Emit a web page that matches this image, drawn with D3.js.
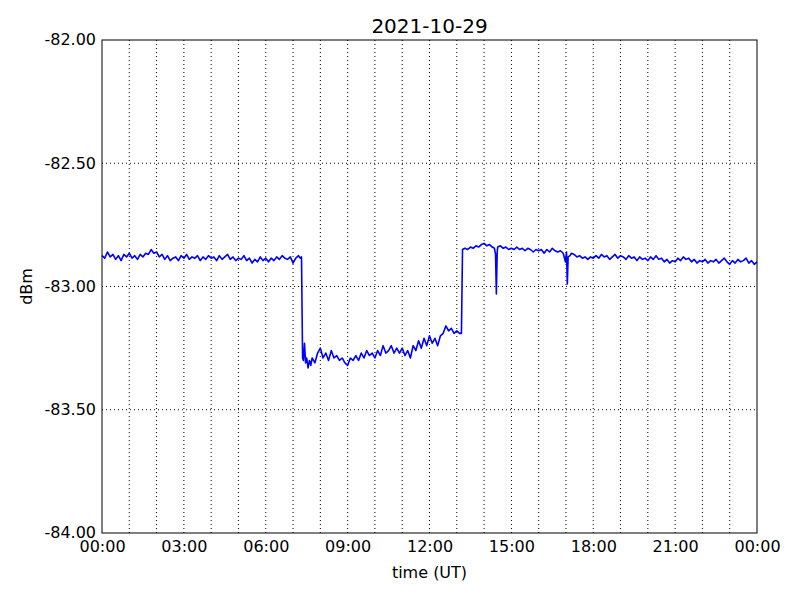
<!DOCTYPE html>
<html>
<head>
<meta charset="utf-8">
<script src="https://cdn.jsdelivr.net/npm/d3@7"></script>
<style>
  body { margin: 0; background: #fff; }
  svg { font-family: "DejaVu Sans", sans-serif; }
</style>
</head>
<body>
<svg id="chart" width="800" height="600"></svg>
<script>
// hours of the day (UT) and received level in dBm
var beforeDrop = [
  [0.0,-82.875],[0.1,-82.885],[0.2,-82.860],[0.3,-82.880],[0.4,-82.870],[0.5,-82.890],
  [0.6,-82.875],[0.7,-82.895],[0.8,-82.870],[0.9,-82.880],[1.0,-82.865],[1.1,-82.885],
  [1.2,-82.875],[1.3,-82.890],[1.4,-82.870],[1.5,-82.880],[1.6,-82.865],[1.7,-82.870],
  [1.8,-82.850],[1.9,-82.865],[2.0,-82.860],[2.1,-82.880],[2.2,-82.870],[2.3,-82.890],
  [2.4,-82.875],[2.5,-82.895],[2.6,-82.885],[2.7,-82.880],[2.8,-82.895],[2.9,-82.875],
  [3.0,-82.885],[3.1,-82.870],[3.2,-82.890],[3.3,-82.880],[3.4,-82.885],[3.5,-82.875],
  [3.6,-82.895],[3.7,-82.880],[3.8,-82.890],[3.9,-82.875],[4.0,-82.885],[4.1,-82.880],
  [4.2,-82.895],[4.3,-82.875],[4.4,-82.890],[4.5,-82.880],[4.6,-82.870],[4.7,-82.890],
  [4.8,-82.880],[4.9,-82.895],[5.0,-82.885],[5.1,-82.890],[5.2,-82.875],[5.3,-82.895],
  [5.4,-82.885],[5.5,-82.905],[5.6,-82.890],[5.7,-82.900],[5.8,-82.880],[5.9,-82.895],
  [6.0,-82.885],[6.1,-82.900],[6.2,-82.885],[6.3,-82.895],[6.4,-82.880],[6.5,-82.890],
  [6.6,-82.875],[6.7,-82.885],[6.8,-82.890],[6.9,-82.880],[7.0,-82.905],[7.1,-82.885],
  [7.2,-82.875],[7.26,-82.885],[7.31,-82.880]
];

var lowLevel = [
  [7.35,-83.29],[7.38,-83.30],[7.42,-83.23],[7.46,-83.31],[7.50,-83.29],[7.55,-83.33],
  [7.60,-83.30],[7.65,-83.32],[7.70,-83.29],[7.8,-83.31],[7.9,-83.27],[8.0,-83.25],
  [8.1,-83.29],[8.2,-83.27],[8.3,-83.30],[8.4,-83.26],[8.5,-83.29],[8.6,-83.28],
  [8.7,-83.30],[8.8,-83.29],[8.9,-83.31],[9.0,-83.32],[9.1,-83.29],[9.2,-83.30],
  [9.3,-83.28],[9.4,-83.30],[9.5,-83.27],[9.6,-83.29],[9.7,-83.26],[9.8,-83.28],
  [9.9,-83.27],[10.0,-83.29],[10.1,-83.26],[10.2,-83.28],[10.3,-83.24],[10.4,-83.27],
  [10.5,-83.26],[10.6,-83.24],[10.7,-83.27],[10.8,-83.25],[10.9,-83.27],[11.0,-83.25],
  [11.1,-83.28],[11.2,-83.26],[11.3,-83.29],[11.4,-83.24],[11.5,-83.26],[11.6,-83.22],
  [11.7,-83.25],[11.8,-83.21],[11.9,-83.24],[12.0,-83.20],[12.1,-83.23],[12.2,-83.21],
  [12.3,-83.24],[12.4,-83.20],[12.5,-83.19],[12.6,-83.16],[12.7,-83.18],[12.8,-83.17],
  [12.9,-83.19],[13.0,-83.18],[13.1,-83.19],[13.17,-83.19]
];

var afternoon = [
  [13.21,-82.850],[13.3,-82.845],[13.4,-82.850],[13.5,-82.840],[13.6,-82.845],[13.7,-82.835],
  [13.8,-82.840],[13.9,-82.830],[14.0,-82.825],[14.1,-82.835],[14.2,-82.830],[14.3,-82.840],
  [14.38,-82.845],[14.42,-82.870],[14.45,-83.030],[14.48,-82.860],[14.5,-82.840],[14.6,-82.835],
  [14.7,-82.845],[14.8,-82.840],[14.9,-82.850],[15.0,-82.845],[15.1,-82.850],[15.2,-82.840],
  [15.3,-82.850],[15.4,-82.845],[15.5,-82.855],[15.6,-82.845],[15.7,-82.850],[15.8,-82.860],
  [15.9,-82.850],[16.0,-82.855],[16.1,-82.850],[16.2,-82.865],[16.3,-82.850],[16.4,-82.860],
  [16.5,-82.845],[16.6,-82.855],[16.7,-82.860],[16.8,-82.855],[16.9,-82.865],[16.98,-82.900],
  [17.02,-82.860],[17.05,-82.990],[17.08,-82.880],[17.15,-82.875]
];

var evening = [
  [17.2,-82.865],[17.3,-82.870],[17.4,-82.880],[17.5,-82.875],[17.6,-82.885],[17.7,-82.880],
  [17.8,-82.890],[17.9,-82.880],[18.0,-82.885],[18.1,-82.875],[18.2,-82.885],[18.3,-82.870],
  [18.4,-82.880],[18.5,-82.875],[18.6,-82.890],[18.7,-82.880],[18.8,-82.870],[18.9,-82.885],
  [19.0,-82.875],[19.1,-82.880],[19.2,-82.890],[19.3,-82.875],[19.4,-82.885],[19.5,-82.880],
  [19.6,-82.895],[19.7,-82.880],[19.8,-82.890],[19.9,-82.885],[20.0,-82.895],[20.1,-82.880],
  [20.2,-82.890],[20.3,-82.875],[20.4,-82.890],[20.5,-82.885],[20.6,-82.900],[20.7,-82.890],
  [20.8,-82.905],[20.9,-82.895],[21.0,-82.900],[21.1,-82.885],[21.2,-82.895],[21.3,-82.880],
  [21.4,-82.890],[21.5,-82.885],[21.6,-82.900],[21.7,-82.890],[21.8,-82.905],[21.9,-82.895],
  [22.0,-82.900],[22.1,-82.890],[22.2,-82.905],[22.3,-82.895],[22.4,-82.900],[22.5,-82.890],
  [22.6,-82.905],[22.7,-82.895],[22.8,-82.885],[22.9,-82.900],[23.0,-82.910],[23.1,-82.895],
  [23.2,-82.905],[23.3,-82.890],[23.4,-82.900],[23.5,-82.895],[23.6,-82.885],[23.7,-82.905],
  [23.8,-82.895],[23.9,-82.910],[24.0,-82.900]
];

var xTicks = [0, 3, 6, 9, 12, 15, 18, 21, 24];
var xTickLabels = ["00:00","03:00","06:00","09:00","12:00","15:00","18:00","21:00","00:00"];
var yTicks = [-84, -83.5, -83, -82.5, -82];
var title = "2021-10-29";

var margin = {left: 102, right: 43, top: 40, bottom: 67};
var w = 800 - margin.left - margin.right;
var h = 600 - margin.top - margin.bottom;

var svg = d3.select("#chart");
var g = svg.append("g").attr("transform", "translate(" + margin.left + "," + margin.top + ")");

var x = d3.scaleLinear().domain([0, 24]).range([0, w]);
var y = d3.scaleLinear().domain([-84, -82]).range([h, 0]);

// dotted grid: every hour vertically, major ticks horizontally
g.append("g").selectAll("line").data(d3.range(1, 24)).enter().append("line")
  .attr("x1", d => x(d)).attr("x2", d => x(d))
  .attr("y1", 0).attr("y2", h)
  .attr("stroke", "#000").attr("stroke-width", 1)
  .attr("stroke-dasharray", "1,3");

g.append("g").selectAll("line").data(yTicks.slice(1, -1)).enter().append("line")
  .attr("x1", 0).attr("x2", w)
  .attr("y1", d => y(d)).attr("y2", d => y(d))
  .attr("stroke", "#000").attr("stroke-width", 1)
  .attr("stroke-dasharray", "1,3");

var data = beforeDrop.concat(lowLevel, afternoon, evening);

var line = d3.line().x(d => x(d[0])).y(d => y(d[1]));

g.append("path").datum(data)
  .attr("d", line)
  .attr("fill", "none")
  .attr("stroke", "#0000ff")
  .attr("stroke-width", 1.6)
  .attr("stroke-linejoin", "round");

// frame
g.append("rect").attr("x", 0).attr("y", 0).attr("width", w).attr("height", h)
  .attr("fill", "none").attr("stroke", "#000").attr("stroke-width", 1);

// axes (labels only, no tick marks)
var xAxis = d3.axisBottom(x).tickValues(xTicks).tickSize(0).tickPadding(8)
  .tickFormat((d, i) => xTickLabels[i]);
var gx = g.append("g").attr("transform", "translate(0," + h + ")").call(xAxis);
gx.select(".domain").remove();
gx.selectAll("text").attr("font-size", 16).attr("fill", "#000")
  .attr("font-family", "DejaVu Sans");

// plain hyphen for the minus sign, like the original
var fmt = d3.format(".2f");
var yAxis = d3.axisLeft(y).tickValues(yTicks).tickSize(0).tickPadding(6)
  .tickFormat(d => fmt(d).replace("\u2212", "-"));
var gy = g.append("g").call(yAxis);
gy.select(".domain").remove();
gy.selectAll("text").attr("font-size", 16).attr("fill", "#000")
  .attr("font-family", "DejaVu Sans").attr("dy", "0.3em");

svg.append("text")
  .attr("x", margin.left + w / 2).attr("y", 33)
  .attr("text-anchor", "middle").attr("font-size", 20)
  .text(title);

svg.append("text")
  .attr("x", margin.left + w / 2).attr("y", 578)
  .attr("text-anchor", "middle").attr("font-size", 16)
  .text("time (UT)");

svg.append("text")
  .attr("transform", "translate(32," + (margin.top + h / 2) + ") rotate(-90)")
  .attr("text-anchor", "middle").attr("font-size", 16)
  .text("dBm");
</script>
</body>
</html>
